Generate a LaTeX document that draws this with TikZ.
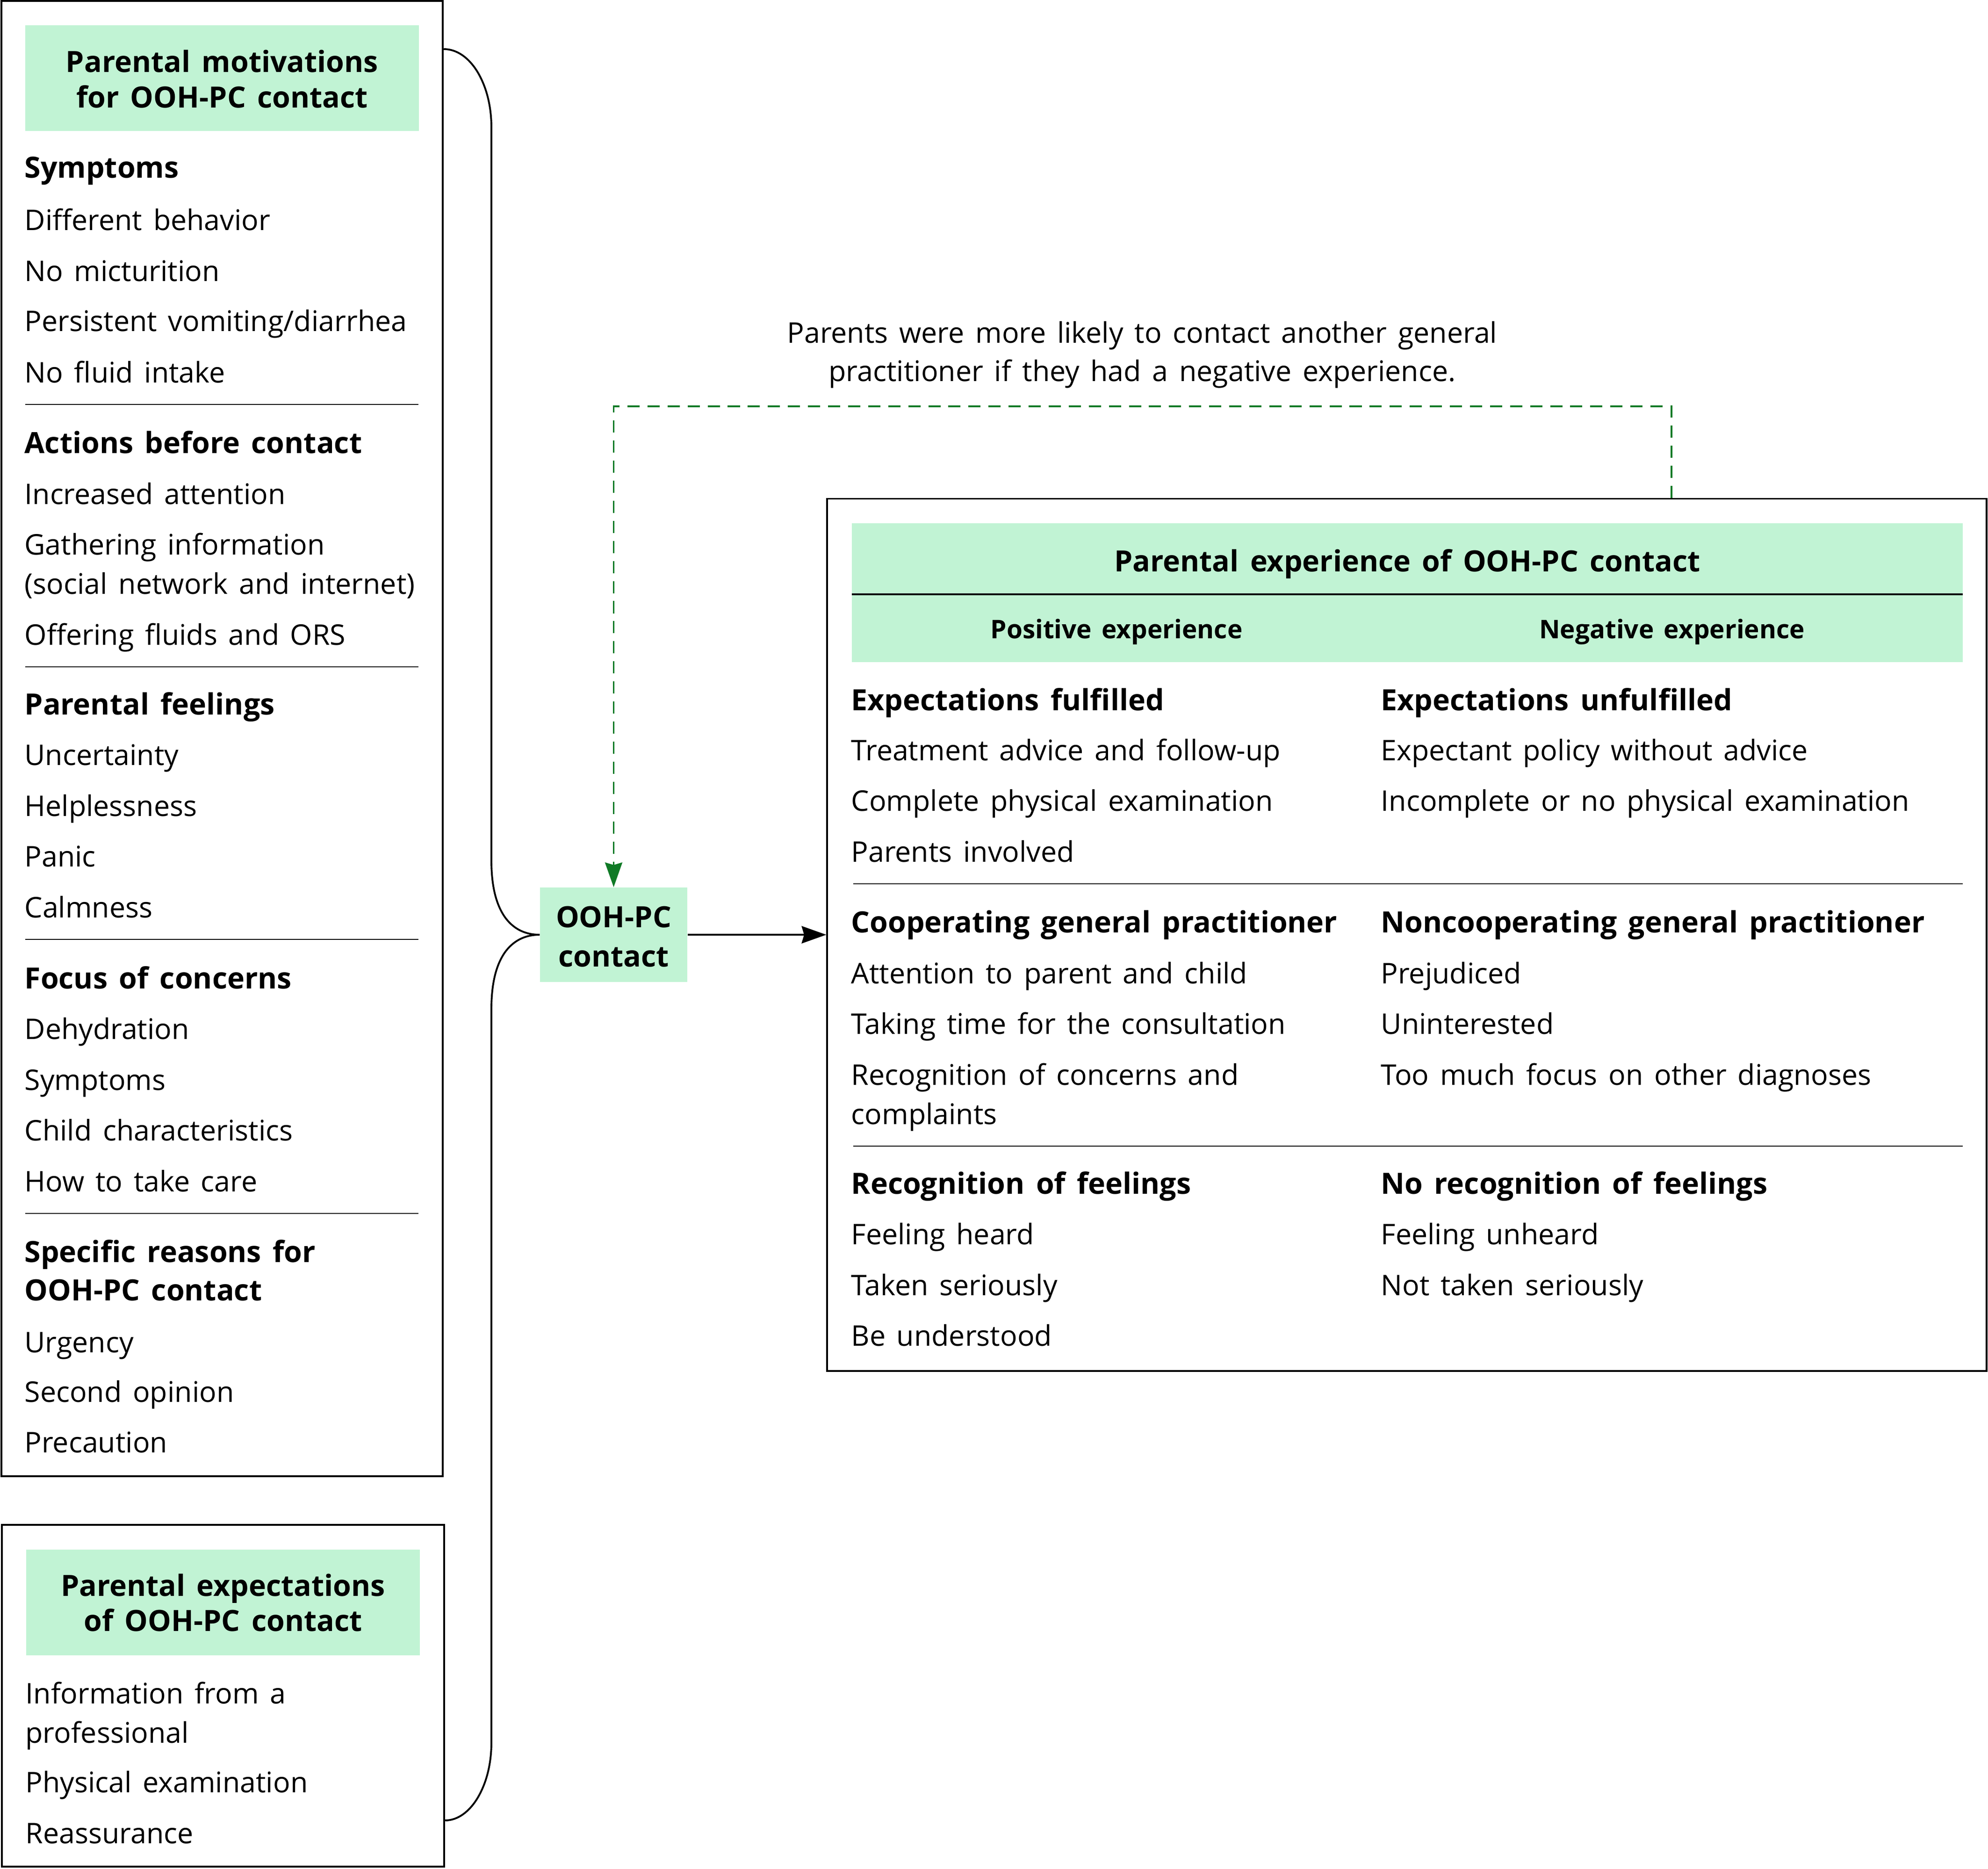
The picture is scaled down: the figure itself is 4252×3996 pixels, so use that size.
\documentclass[tikz,border=0pt]{standalone}
\usepackage{fontspec}
\setmainfont[WordSpace=1.5]{Open Sans}
\usetikzlibrary{arrows.meta}
\definecolor{hdrgreen}{RGB}{193,243,212}
\definecolor{dashgreen}{RGB}{16,122,38}
\newcommand{\bodyfont}{\fontsize{17.3}{20}\selectfont}
\newcommand{\boldfont}{\fontsize{17.8}{20}\selectfont\bfseries}
\newcommand{\subfont}{\fontsize{15.6}{18}\selectfont\bfseries}
\begin{document}
\begin{tikzpicture}[x=0.01cm,y=-0.01cm,
  txt/.style={anchor=base west, inner sep=0pt, font=\bodyfont},
  bld/.style={anchor=base west, inner sep=0pt, font=\boldfont},
  ctrb/.style={anchor=base, inner sep=0pt, font=\boldfont},
  ctr/.style={anchor=base, inner sep=0pt, font=\bodyfont},
  subb/.style={anchor=base, inner sep=0pt, font=\subfont},
  frame/.style={draw=black, line width=1.1pt, inner sep=0pt},
  hdr/.style={fill=hdrgreen, inner sep=0pt},
  sepline/.style={line width=0.6pt},
  brace/.style={line width=1.1pt},
  arr/.style={line width=1.1pt, -{Stealth[length=15pt,width=10.5pt,inset=1.5pt]}},
  dsh/.style={draw=dashgreen, line width=1pt, dash pattern=on 7.4pt off 4.8pt,
    -{Stealth[length=15pt,width=10.5pt,inset=1.5pt,fill=dashgreen]}}
]
\useasboundingbox (0,0) rectangle (4252,3996);

% ---------- left box 1 ----------
\node[frame, minimum width=9.44cm, minimum height=31.53cm] (box1) at (475,1579.5) {};
\node[hdr, minimum width=8.42cm, minimum height=2.26cm] (hdr1) at (475,167) {};
\node[ctrb] (h1a) at (475,154) {Parental motivations};
\node[ctrb] (h1b) at (475,230) {for OOH-PC contact};

\node[bld] (l1) at (52,380) {Symptoms};
\node[txt] (l2) at (52,492) {Different behavior};
\node[txt] (l3) at (52,601) {No micturition};
\node[txt] (l4) at (52,708) {Persistent vomiting/diarrhea};
\node[txt] (l5) at (52,818) {No fluid intake};
\draw[sepline] (54,865) -- (895,865);
\node[bld] (l6) at (52,969) {Actions before contact};
\node[txt] (l7) at (52,1078) {Increased attention};
\node[txt] (l8) at (52,1186) {Gathering information};
\node[txt] (l9) at (52,1270) {(social network and internet)};
\node[txt] (l10) at (52,1379) {Offering fluids and ORS};
\draw[sepline] (54,1426) -- (895,1426);
\node[bld] (l11) at (52,1528) {Parental feelings};
\node[txt] (l12) at (52,1636) {Uncertainty};
\node[txt] (l13) at (52,1745) {Helplessness};
\node[txt] (l14) at (52,1853) {Panic};
\node[txt] (l15) at (52,1962) {Calmness};
\draw[sepline] (54,2009) -- (895,2009);
\node[bld] (l16) at (52,2114) {Focus of concerns};
\node[txt] (l17) at (52,2222) {Dehydration};
\node[txt] (l18) at (52,2331) {Symptoms};
\node[txt] (l19) at (52,2439) {Child characteristics};
\node[txt] (l20) at (52,2548) {How to take care};
\draw[sepline] (54,2595) -- (895,2595);
\node[bld] (l21) at (52,2699) {Specific reasons for};
\node[bld] (l22) at (52,2781) {OOH-PC contact};
\node[txt] (l23) at (52,2892) {Urgency};
\node[txt] (l24) at (52,2998) {Second opinion};
\node[txt] (l25) at (52,3106) {Precaution};

% ---------- left box 2 ----------
\node[frame, minimum width=9.46cm, minimum height=7.31cm] (box2) at (477,3626.5) {};
\node[hdr, minimum width=8.42cm, minimum height=2.26cm] (hdr2) at (477,3427) {};
\node[ctrb] (h2a) at (477,3413) {Parental expectations};
\node[ctrb] (h2b) at (477,3488) {of OOH-PC contact};
\node[txt] (e1) at (54,3643) {Information from a};
\node[txt] (e2) at (54,3727) {professional};
\node[txt] (e3) at (54,3833) {Physical examination};
\node[txt] (e4) at (54,3942) {Reassurance};

% ---------- central node ----------
\node[hdr, minimum width=3.15cm, minimum height=2.02cm] (ooh) at (1312.5,1999) {};
\node[ctrb] (ooha) at (1312.5,1983) {OOH-PC};
\node[ctrb] (oohb) at (1312.5,2067) {contact};

% ---------- right box ----------
\node[frame, minimum width=24.78cm, minimum height=18.64cm] (rbox) at (3009,1999) {};
\node[hdr, minimum width=23.74cm, minimum height=2.97cm] (rhdr) at (3010,1267.5) {};
\draw[line width=1.1pt] (rhdr.west |- 0,1271) -- (rhdr.east |- 0,1271);
\node[ctrb] (rt) at (3010,1222) {Parental experience of OOH-PC contact};
\node[subb] (rpos) at (2388,1365) {Positive experience};
\node[subb] (rneg) at (3576,1365) {Negative experience};

\node[bld] (a1) at (1820,1519) {Expectations fulfilled};
\node[txt] (a2) at (1820,1626) {Treatment advice and follow-up};
\node[txt] (a3) at (1820,1734) {Complete physical examination};
\node[txt] (a4) at (1820,1843) {Parents involved};
\node[bld] (b1) at (2953,1519) {Expectations unfulfilled};
\node[txt] (b2) at (2953,1626) {Expectant policy without advice};
\node[txt] (b3) at (2953,1734) {Incomplete or no physical examination};
\draw[sepline] (1825,1890) -- (4198,1890);
\node[bld] (a5) at (1820,1994) {Cooperating general practitioner};
\node[txt] (a6) at (1820,2103) {Attention to parent and child};
\node[txt] (a7) at (1820,2211) {Taking time for the consultation};
\node[txt] (a8) at (1820,2320) {Recognition of concerns and};
\node[txt] (a9) at (1820,2404) {complaints};
\node[bld] (b5) at (2953,1994) {Noncooperating general practitioner};
\node[txt] (b6) at (2953,2103) {Prejudiced};
\node[txt] (b7) at (2953,2211) {Uninterested};
\node[txt] (b8) at (2953,2320) {Too much focus on other diagnoses};
\draw[sepline] (1825,2451) -- (4198,2451);
\node[bld] (a10) at (1820,2553) {Recognition of feelings};
\node[txt] (a11) at (1820,2661) {Feeling heard};
\node[txt] (a12) at (1820,2770) {Taken seriously};
\node[txt] (a13) at (1820,2878) {Be understood};
\node[bld] (b10) at (2953,2553) {No recognition of feelings};
\node[txt] (b11) at (2953,2661) {Feeling unheard};
\node[txt] (b12) at (2953,2770) {Not taken seriously};

% ---------- annotation ----------
\node[ctr] (n1) at (2443,733) {Parents were more likely to contact another general};
\node[ctr] (n2) at (2443,815) {practitioner if they had a negative experience.};

% ---------- connectors ----------
\draw[brace] (box1.north east |- 0,105) .. controls (1006,105) and (1051,180) .. (1051,272)
  -- (1051,1840) .. controls (1051,1960) and (1100,1999) .. (ooh.west)
  .. controls (1100,1999) and (1051,2038) .. (1051,2158)
  -- (1051,3727) .. controls (1051,3819) and (1006,3893) .. (box2.north east |- 0,3893);
\draw[arr] (ooh.east) -- (rbox.west);
\draw[dsh] (rbox.north -| 3575,0) -- (3575,869) -- (ooh.north |- 0,869) -- (ooh.north);
\end{tikzpicture}
\end{document}
